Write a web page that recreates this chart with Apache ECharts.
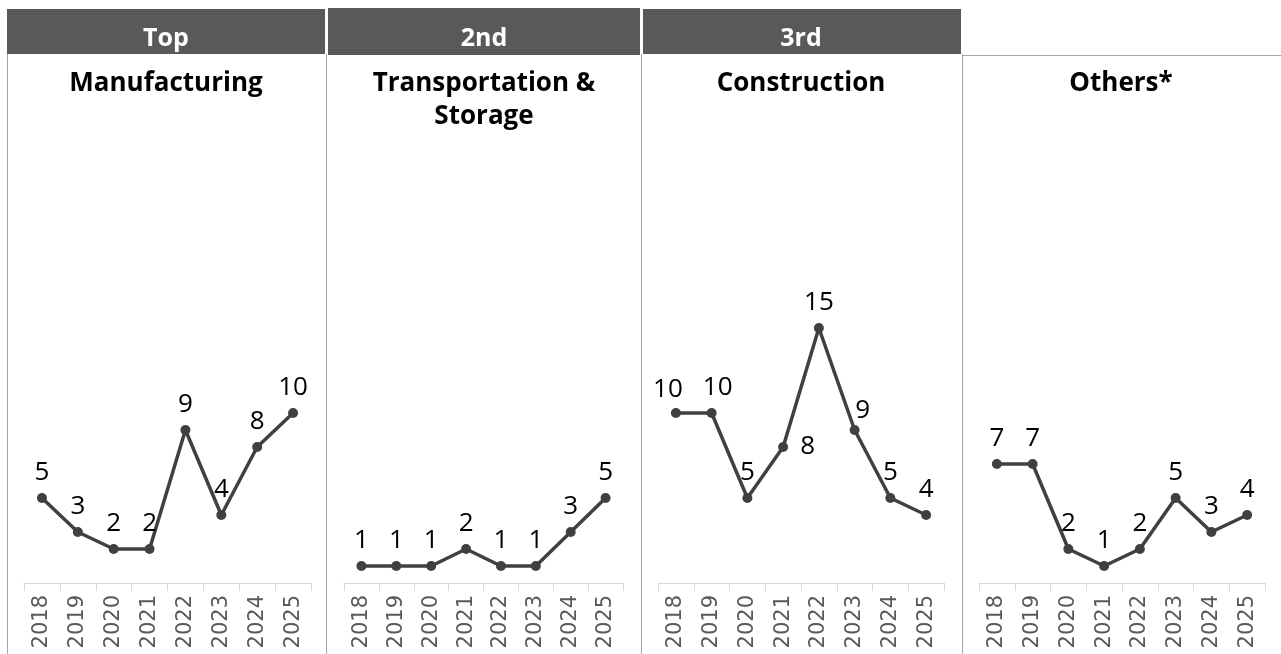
<!DOCTYPE html>
<html>
<head>
<meta charset="utf-8">
<script src="https://cdn.jsdelivr.net/npm/echarts@6/dist/echarts.min.js"></script>
<style>
  html, body { margin: 0; padding: 0; background: #fff; }
  #chart { width: 1281px; height: 654px; }
</style>
</head>
<body>
<div id="chart"></div>
<script>
// Years on each panel's x axis
const years = ['2018', '2019', '2020', '2021', '2022', '2023', '2024', '2025'];

// Rank headers and industry names, one per panel
const ranks = ['Top', '2nd', '3rd', ''];
const industries = ['Manufacturing', 'Transportation &\nStorage', 'Construction', 'Others*'];

// Yearly counts per industry
const manufacturing = [5, 3, 2, 2, 9, 4, 8, 10];
const transportStorage = [1, 1, 1, 2, 1, 1, 3, 5];
const construction = [10, 10, 5, 8, 15, 9, 5, 4];
const others = [7, 7, 2, 1, 2, 5, 3, 4];

const seriesValues = [manufacturing, transportStorage, construction, others];

// Panel geometry (plot areas and frames)
const plotAreas = [
  { left: 24, width: 287 },
  { left: 344, width: 279 },
  { left: 658, width: 286 },
  { left: 979, width: 286 }
];
const panelCenters = [166, 484, 801, 1121];
const headerBoxes = [
  { x: 7, y: 9, w: 318, h: 45 },
  { x: 328, y: 8, w: 312, h: 47 },
  { x: 643, y: 9, w: 318, h: 45 }
];
const gridTop = 243, gridHeight = 340;

// A few construction labels are nudged so they do not collide with the line
const labelTweaks = {
  2: {
    0: { offset: [-8, 2] },
    1: { offset: [6, 0] },
    3: { position: 'right', distance: 12 },
    5: { offset: [8, 6] }
  }
};

const LINE = '#404040';
const FRAME = '#a6a6a6';

const grids = [], xAxes = [], yAxes = [], series = [];
plotAreas.forEach((p, i) => {
  grids.push({ left: p.left, width: p.width, top: gridTop, height: gridHeight, containLabel: false });
  xAxes.push({
    type: 'category',
    gridIndex: i,
    data: years,
    boundaryGap: true,
    axisLine: { show: true, lineStyle: { color: '#d9d9d9', width: 1 } },
    axisTick: { show: true, length: 8, lineStyle: { color: '#d9d9d9' } },
    axisLabel: {
      rotate: 90,
      margin: 12,
      color: '#595959',
      fontSize: 21,
      fontFamily: 'DejaVu Sans',
      interval: 0
    },
    splitLine: { show: false }
  });
  yAxes.push({
    type: 'value',
    gridIndex: i,
    min: 0,
    max: 20,
    show: false,
    splitLine: { show: false }
  });
  const tweaks = labelTweaks[i] || {};
  series.push({
    type: 'line',
    xAxisIndex: i,
    yAxisIndex: i,
    data: seriesValues[i].map((v, j) => tweaks[j] ? { value: v, label: tweaks[j] } : v),
    symbol: 'circle',
    symbolSize: 10,
    lineStyle: { color: LINE, width: 3.5 },
    itemStyle: { color: LINE },
    label: {
      show: true,
      position: 'top',
      distance: 7,
      color: '#000',
      fontSize: 26,
      fontFamily: 'Open Sans'
    },
    animation: false
  });
});

// Panel frames, header boxes and titles
const graphics = [];
[7.5, 326.5, 641.5, 962.5].forEach(x => {
  graphics.push({ type: 'line', shape: { x1: x, y1: 54, x2: x, y2: 654 }, style: { stroke: FRAME, lineWidth: 1 }, silent: true });
});
graphics.push({ type: 'line', shape: { x1: 962, y1: 55.5, x2: 1281, y2: 55.5 }, style: { stroke: FRAME, lineWidth: 1 }, silent: true });

headerBoxes.forEach((b, i) => {
  graphics.push({ type: 'rect', shape: { x: b.x, y: b.y, width: b.w, height: b.h }, style: { fill: '#595959' }, silent: true });
  graphics.push({
    type: 'text',
    x: panelCenters[i],
    y: b.y + b.h / 2 + 7,
    style: {
      text: ranks[i],
      fill: '#fff',
      font: 'bold 25px "Open Sans"',
      textAlign: 'center',
      textVerticalAlign: 'middle'
    },
    silent: true
  });
});

industries.forEach((name, i) => {
  graphics.push({
    type: 'text',
    x: panelCenters[i],
    y: 67,
    style: {
      text: name,
      fill: '#000',
      font: 'bold 26px "Open Sans"',
      lineHeight: 33,
      textAlign: 'center',
      textVerticalAlign: 'top'
    },
    silent: true
  });
});

const chart = echarts.init(document.getElementById('chart'), null, { renderer: 'canvas' });
chart.setOption({
  backgroundColor: '#fff',
  animation: false,
  grid: grids,
  xAxis: xAxes,
  yAxis: yAxes,
  series: series,
  graphic: graphics
});
</script>
</body>
</html>
